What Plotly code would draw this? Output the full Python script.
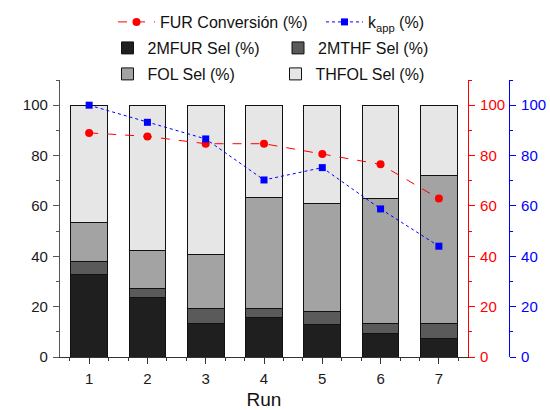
import plotly.graph_objects as go

# ---------------- data ----------------
runs = [1, 2, 3, 4, 5, 6, 7]
sel_2mfur = [32.7, 23.7, 13.5, 15.5, 12.9, 9.4, 7.2]
sel_2mthf = [5.1, 3.5, 5.6, 3.6, 5.0, 4.1, 6.1]
sel_fol = [15.5, 15.0, 21.6, 44.4, 43.0, 49.5, 58.6]
sel_thfol = [46.7, 57.8, 59.3, 36.5, 39.1, 37.0, 28.1]
fur_conversion = [89.0, 87.6, 84.7, 84.7, 80.6, 76.5, 62.9]
k_app = [100.0, 93.2, 86.6, 70.3, 75.2, 58.8, 44.0]
y_ticks = [0, 20, 40, 60, 80, 100]

# ---------------- layout helpers ----------------
W, H = 550, 410
ML, MR, MT, MB = 60, 30, 80, 53
PW = W - ML - MR
PH = H - MT - MB


def px_x(x):
    return (x - ML) / PW


def px_y(y):
    return (H - MB - y) / PH


FONT = "Liberation Sans, Arial, sans-serif"
RED = "#ff0000"
BLUE = "#0000ff"

fig = go.Figure()

bar_specs = [
    (sel_2mfur, "2MFUR Sel (%)", "#1f1f1f", "legend2"),
    (sel_2mthf, "2MTHF Sel (%)", "#5a5a5a", "legend2"),
    (sel_fol, "FOL Sel (%)", "#a3a3a3", "legend3"),
    (sel_thfol, "THFOL Sel (%)", "#e6e6e6", "legend3"),
]
for vals, name, color, lg in bar_specs:
    fig.add_trace(go.Bar(
        x=runs, y=vals, name=name, width=0.63,
        marker=dict(color=color, line=dict(color="#111111", width=1)),
        legend=lg,
    ))

fig.add_trace(go.Scatter(
    x=runs, y=fur_conversion, yaxis="y2", mode="lines+markers",
    name="FUR Conversión (%)",
    line=dict(color=RED, width=1, dash="dash"),
    marker=dict(symbol="circle", size=8, color=RED),
    legend="legend",
))
fig.add_trace(go.Scatter(
    x=runs, y=k_app, yaxis="y3", mode="lines+markers",
    name="k<sub>app</sub> (%)",
    line=dict(color=BLUE, width=1, dash="dot"),
    marker=dict(symbol="square", size=7, color=BLUE),
    legend="legend",
))

axis_common = dict(
    showgrid=False, zeroline=False, showline=True, linewidth=1.2,
    ticks="outside", ticklen=6, tickwidth=1.2,
    tickfont=dict(family=FONT, size=15),
)

x_end = px_x(468)

fig.update_layout(
    width=W, height=H,
    margin=dict(l=ML, r=MR, t=MT, b=MB, autoexpand=False),
    paper_bgcolor="white", plot_bgcolor="white",
    barmode="stack",
    font=dict(family=FONT, size=15, color="#1a1a1a"),
    xaxis=dict(
        **axis_common,
        domain=[0, x_end],
        range=[0.5, 7.5],
        tickvals=runs,
        linecolor="#333333", tickcolor="#333333",
        minor=dict(tick0=1 / 3, dtick=1 / 3, ticks="outside", ticklen=3,
                   tickcolor="#333333", tickwidth=1.2),
        title=dict(text="Run", font=dict(family=FONT, size=19, color="#111111"),
                   standoff=8),
        ticklabelstandoff=2,
    ),
    yaxis=dict(
        **axis_common,
        range=[0, 110],
        tickvals=y_ticks,
        linecolor="#555555", tickcolor="#555555",
        minor=dict(tick0=0, dtick=10, ticks="outside", ticklen=3,
                   tickcolor="#555555", tickwidth=1.2),
        ticklabelstandoff=2,
        anchor="x",
    ),
    yaxis2=dict(
        **axis_common,
        overlaying="y", side="right", anchor="x",
        range=[0, 110],
        tickvals=y_ticks,
        linecolor=RED, tickcolor=RED,
        tickfont_color=RED,
        minor=dict(tick0=0, dtick=10, ticks="outside", ticklen=3,
                   tickcolor=RED, tickwidth=1.2),
        ticklabelstandoff=2,
    ),
    yaxis3=dict(
        **axis_common,
        overlaying="y", side="right", anchor="free",
        position=px_x(509),
        range=[0, 110],
        tickvals=y_ticks,
        linecolor=BLUE, tickcolor=BLUE,
        tickfont_color=BLUE,
        minor=dict(tick0=0, dtick=10, ticks="outside", ticklen=3,
                   tickcolor=BLUE, tickwidth=1.2),
        ticklabelstandoff=2,
    ),
    legend=dict(
        orientation="h", x=px_x(113), xanchor="left",
        y=px_y(22), yanchor="middle",
        itemwidth=37, entrywidth=156, entrywidthmode="pixels",
        font=dict(family=FONT, size=16, color="#111111"),
        bgcolor="rgba(0,0,0,0)", traceorder="normal",
    ),
    legend2=dict(
        orientation="h", x=px_x(107.5), xanchor="left",
        y=px_y(48), yanchor="middle",
        itemwidth=30, entrywidth=125.5, entrywidthmode="pixels",
        font=dict(family=FONT, size=16, color="#111111"),
        bgcolor="rgba(0,0,0,0)", traceorder="normal",
    ),
    legend3=dict(
        orientation="h", x=px_x(107.5), xanchor="left",
        y=px_y(74), yanchor="middle",
        itemwidth=30, entrywidth=123, entrywidthmode="pixels",
        font=dict(family=FONT, size=16, color="#111111"),
        bgcolor="rgba(0,0,0,0)", traceorder="normal",
    ),
    showlegend=True,
)

fig.write_html("out.html")
